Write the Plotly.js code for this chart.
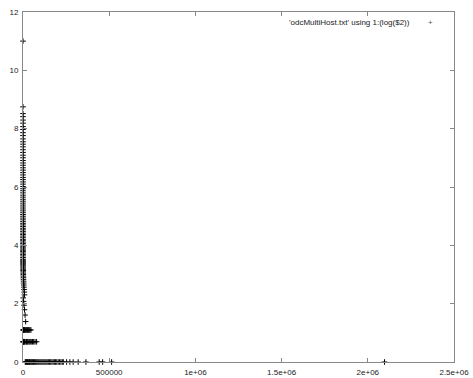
<!DOCTYPE html>
<html>
<head>
<meta charset="utf-8">
<script src="https://cdn.plot.ly/plotly-3.0.1.min.js"></script>
<style>html,body{margin:0;padding:0;background:#fff;}#chart{width:473px;height:378px;}</style>
</head>
<body>
<div id="chart"></div>
<script>
// column 1 (x) and column 2 (count) of 'odcMultiHost.txt'; plotted as 1:(log($2))
const colX_main = [1,2,3,4,5,6,7,8,9,10,11,12,13,14,15,16,17,18,19,20,21,22,23,24,25,26,27,28,29,30,31,32,33,34,35,36,37,38,39,40,41,42,43,44,45,46,47,48,49,50,52,54,56,58,60,63,66,70,74,78,83,88,94,100,110,120,130,145,160,180,200,220,250,280,320,360,410,470,540,620,710,820,950,1100,1280,1500,1750,2050,2400,2800,3300,3900,4600,5400,6300,7400,8600];
const colCount_main = [60000,6300,5000,4500,4000,3600,3200,2900,2600,2350,2100,1900,1750,1600,1450,1320,1200,1100,1000,920,850,780,720,660,610,560,520,480,445,410,380,355,330,305,285,265,248,232,217,203,190,178,167,157,148,139,131,123,116,110,104,98,93,88,83,79,75,71,67,64,61,58,55,52,50,48,46,44,42,40,38,36,34,33,32,31,30,29,28,27,26,25,24,23,22,21,20,19,18,17,16,15,14,13,12,11,10,9,8,7,6,5,4];
const colX_three = [1200,3500,6000,9000,12000,15500,19000,23000,27000,31000,35000,40000,46000];
const colCount_three = [3,3,3,3,3,3,3,3,3,3,3,3,3];
const colX_two = [800,2500,4500,7000,10000,13500,17000,21000,25000,30000,36000,42000,48000,55000,62000,70000,79000];
const colCount_two = [2,2,2,2,2,2,2,2,2,2,2,2,2,2,2,2,2];
const colX_one = [300,1500,3000,5000,7500,10500,13000,16000,19500,23000,26500,30000,34000,38000,42000,46500,51000,56000,61000,66000,71000,76000,81000,86500,92000,98000,104000,110000,116000,122000,128000,134000,140000,147000,154000,161000,168000,175000,182000,189000,196000,204000,212000,220000,228000,234000,253000,272000,291000,320000,365000,442000,462000,514000,2097000];
const colCount_one = [1,1,1,1,1,1,1,1,1,1,1,1,1,1,1,1,1,1,1,1,1,1,1,1,1,1,1,1,1,1,1,1,1,1,1,1,1,1,1,1,1,1,1,1,1,1,1,1,1,1,1,1,1,1,1];
const xTickVals = [0,500000,1000000,1500000,2000000,2500000];
const xTickText = ['0','500000','1e+06','1.5e+06','2e+06','2.5e+06'];
const yTickVals = [0,2,4,6,8,10,12];
const seriesLabel = "'odcMultiHost.txt' using 1:(log($2))";

const xs = colX_main.concat(colX_three, colX_two, colX_one);
const counts = colCount_main.concat(colCount_three, colCount_two, colCount_one);
const ys = counts.map(c => Math.log(c));

const font = {family: 'Liberation Sans, Arial, sans-serif', size: 8, color: '#222'};
const trace = {
  x: xs, y: ys, type: 'scatter', mode: 'markers', name: seriesLabel,
  cliponaxis: false, showlegend: false,
  marker: {symbol: 'cross-thin-open', size: 4, color: '#000', line: {color: '#222', width: 1}}
};
const axisCommon = {
  showgrid: false, zeroline: false, showline: true, linecolor: '#888', linewidth: 1,
  mirror: 'allticks', ticks: 'inside', ticklen: 4, tickcolor: '#888', tickwidth: 1,
  tickfont: font, fixedrange: true
};
const layout = {
  width: 473, height: 378,
  margin: {l: 23, r: 19, t: 12, b: 16},
  paper_bgcolor: '#fff', plot_bgcolor: '#fff',
  showlegend: false,
  xaxis: Object.assign({}, axisCommon, {range: [0, 2500000], tickmode: 'array', tickvals: xTickVals, ticktext: xTickText, ticklabelstandoff: 2}),
  yaxis: Object.assign({}, axisCommon, {range: [0, 12], tickmode: 'array', tickvals: yTickVals, ticktext: yTickVals.map(String), ticklabelstandoff: 2}),
  annotations: [
    {xref: 'paper', yref: 'paper', x: 0.9026, y: 0.9686, xanchor: 'right', yanchor: 'middle', text: seriesLabel, showarrow: false, font: font},
    {xref: 'paper', yref: 'paper', x: 0.9466, y: 0.9686, xanchor: 'center', yanchor: 'middle', text: '+', showarrow: false, font: {family: 'Liberation Sans, Arial, sans-serif', size: 8, color: '#555'}}
  ]
};
Plotly.newPlot('chart', [trace], layout, {staticPlot: true, displayModeBar: false});
</script>
</body>
</html>
